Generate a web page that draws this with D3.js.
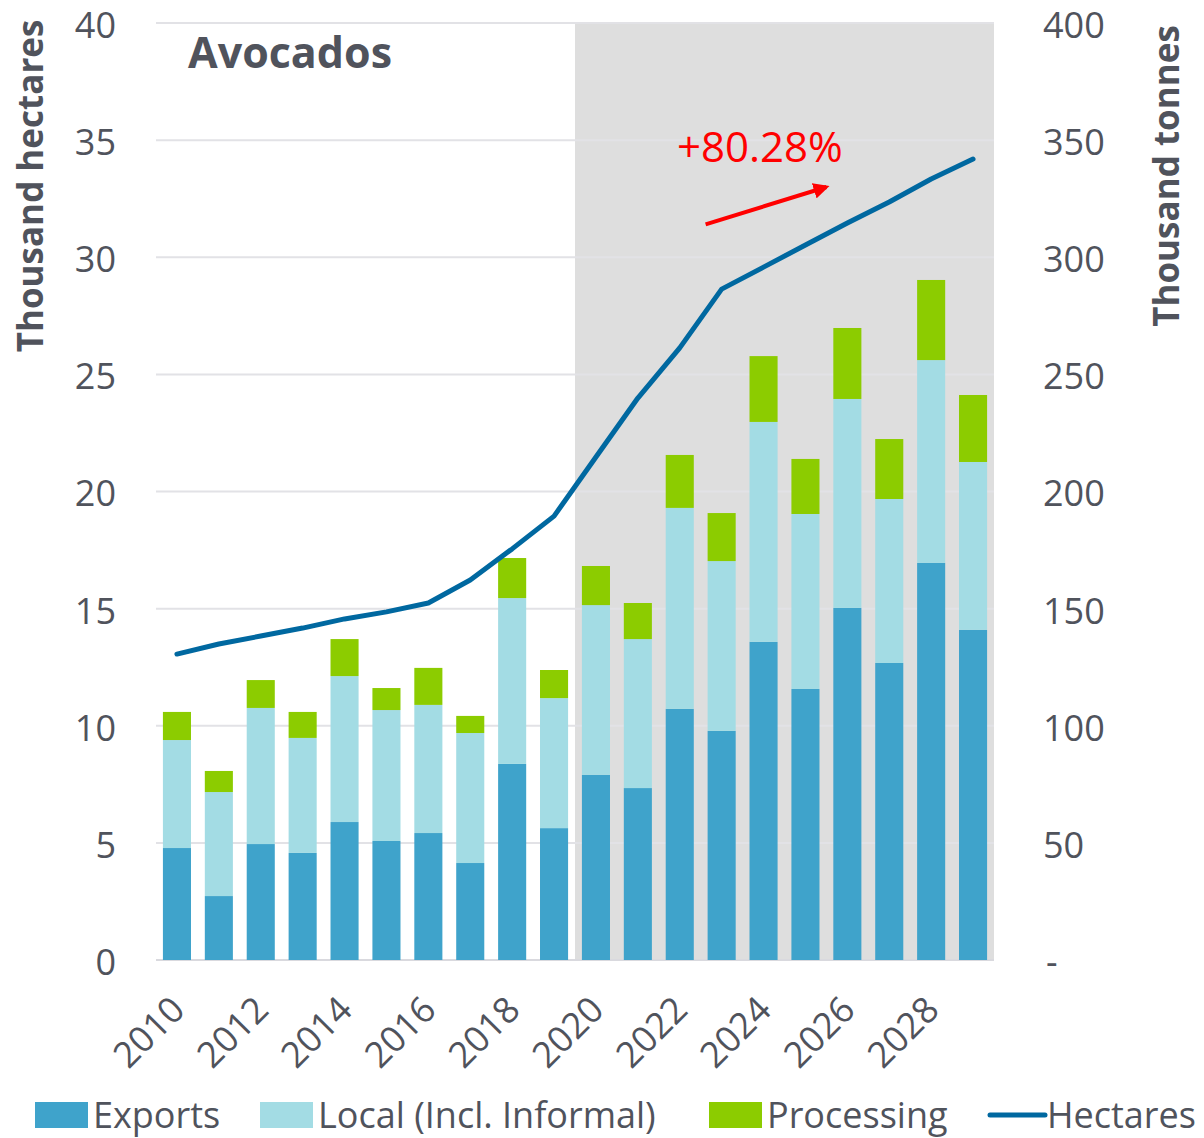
<!DOCTYPE html>
<html>
<head>
<meta charset="utf-8">
<script src="https://cdn.jsdelivr.net/npm/d3@7"></script>
<style>
  body { margin: 0; background: #fff; }
  text { font-family: "Open Sans", Lato, sans-serif; fill: #50535c; }
</style>
</head>
<body>
<div id="chart"></div>
<script>
// Chart data (thousand tonnes for bars, thousand hectares for the line)
const years = d3.range(2010, 2030);
const exportsT = [47.8, 27.3, 49.5, 45.7, 58.9, 50.8, 54.2, 41.4, 83.7, 56.3, 79.0, 73.4, 107.2, 97.8, 135.8, 115.7, 150.3, 126.8, 169.5, 140.9];
const localT = [46.1, 44.4, 58.1, 49.1, 62.3, 55.9, 54.7, 55.5, 70.8, 55.5, 72.5, 63.6, 85.8, 72.5, 93.9, 74.7, 89.2, 70.0, 86.6, 71.7];
const processingT = [12.0, 9.0, 11.9, 11.1, 15.8, 9.4, 15.8, 7.3, 17.1, 12.0, 16.7, 15.4, 22.6, 20.5, 28.1, 23.5, 30.3, 25.6, 34.2, 28.6];
const hectares = [13.06, 13.49, 13.83, 14.17, 14.56, 14.86, 15.24, 16.22, 17.55, 18.95, 21.47, 23.99, 26.13, 28.64, 29.58, 30.52, 31.46, 32.36, 33.34, 34.19];
const leftTicks = [0, 5, 10, 15, 20, 25, 30, 35, 40];
const rightTicks = [0, 50, 100, 150, 200, 250, 300, 350, 400];
const forecastStart = 2020;
const growthLabel = '+80.28%';
const seriesKeys = ['Exports', 'Local (Incl. Informal)', 'Processing'];
const colors = { 'Exports': '#3fa3cb', 'Local (Incl. Informal)': '#a3dce4', 'Processing': '#8ccc00' };
const lineColor = '#0068a0';

const width = 1204, height = 1138;
const plot = { left: 156, right: 994, top: 23, bottom: 960 };

const svg = d3.select('#chart').append('svg')
    .attr('width', width)
    .attr('height', height);

const x = d3.scaleBand()
    .domain(years)
    .range([plot.left, plot.right])
    .paddingInner(0.33)
    .paddingOuter(0.165);

const yLeft = d3.scaleLinear().domain([0, 40]).range([plot.bottom, plot.top]);
const yRight = d3.scaleLinear().domain([0, 400]).range([plot.bottom, plot.top]);

// Forecast shading
const shadeX = (x(forecastStart - 1) + x.bandwidth() + x(forecastStart)) / 2;
svg.append('rect')
    .attr('x', shadeX)
    .attr('y', plot.top)
    .attr('width', plot.right - shadeX)
    .attr('height', plot.bottom - plot.top)
    .attr('fill', '#dedede');

// Gridlines
svg.append('g')
    .selectAll('line')
    .data(leftTicks)
    .enter()
    .append('line')
    .attr('x1', plot.left)
    .attr('x2', plot.right)
    .attr('y1', d => yLeft(d))
    .attr('y2', d => yLeft(d))
    .attr('stroke', d => d === 0 ? '#d9d9de' : '#e2e2e6')
    .attr('stroke-width', 2);

// Stacked bars
const rows = years.map((yr, i) => ({
    year: yr,
    'Exports': exportsT[i],
    'Local (Incl. Informal)': localT[i],
    'Processing': processingT[i]
}));
const stacked = d3.stack().keys(seriesKeys)(rows);

svg.append('g')
    .selectAll('g')
    .data(stacked)
    .enter()
    .append('g')
    .attr('fill', d => colors[d.key])
    .selectAll('rect')
    .data(d => d)
    .enter()
    .append('rect')
    .attr('x', d => x(d.data.year))
    .attr('y', d => yRight(d[1]))
    .attr('width', x.bandwidth())
    .attr('height', d => yRight(d[0]) - yRight(d[1]));

// Hectares line
const line = d3.line()
    .x((d, i) => x(years[i]) + x.bandwidth() / 2)
    .y(d => yLeft(d));

svg.append('path')
    .datum(hectares)
    .attr('d', line)
    .attr('fill', 'none')
    .attr('stroke', lineColor)
    .attr('stroke-width', 5)
    .attr('stroke-linecap', 'round')
    .attr('stroke-linejoin', 'round');

// Left axis labels
svg.append('g')
    .selectAll('text')
    .data(leftTicks)
    .enter()
    .append('text')
    .attr('x', 116)
    .attr('y', d => yLeft(d) + 2)
    .attr('dy', '0.36em')
    .attr('text-anchor', 'end')
    .style('font-size', '36px')
    .text(d => d);

// Right axis labels
svg.append('g')
    .selectAll('text')
    .data(rightTicks)
    .enter()
    .append('text')
    .attr('x', d => d === 0 ? 1046 : 1043)
    .attr('y', d => yRight(d) + 2)
    .attr('dy', '0.36em')
    .style('font-size', '36px')
    .text(d => d === 0 ? '-' : d);

// X labels (every other year)
svg.append('g')
    .selectAll('text')
    .data(years.filter(y => y % 2 === 0))
    .enter()
    .append('text')
    .attr('transform', d => `translate(${x(d) + x.bandwidth() / 2 - 8},${plot.bottom + 34}) rotate(-45)`)
    .attr('text-anchor', 'end')
    .attr('dy', '0.7em')
    .style('font-size', '36px')
    .text(d => d);

// Axis titles
svg.append('text')
    .attr('transform', `translate(43,${(20 + 352) / 2}) rotate(-90)`)
    .attr('text-anchor', 'middle')
    .style('font-size', '35px')
    .style('font-weight', 'bold')
    .text('Thousand hectares');

svg.append('text')
    .attr('transform', `translate(1179,${(25 + 327) / 2}) rotate(-90)`)
    .attr('text-anchor', 'middle')
    .style('font-size', '35px')
    .style('font-weight', 'bold')
    .text('Thousand tonnes');

// Title
svg.append('text')
    .attr('x', 188)
    .attr('y', 68)
    .style('font-size', '43px')
    .style('font-weight', 'bold')
    .text('Avocados');

// Growth annotation
svg.append('defs').append('marker')
    .attr('id', 'arrow')
    .attr('viewBox', '0 0 10 10')
    .attr('refX', 8)
    .attr('refY', 5)
    .attr('markerWidth', 4)
    .attr('markerHeight', 4)
    .attr('orient', 'auto')
    .append('path')
    .attr('d', 'M0,0 L10,5 L0,10 z')
    .attr('fill', '#ff0000');

const arrowX0 = x(2023) - 2, arrowX1 = x(2025) + 35;
svg.append('line')
    .attr('x1', arrowX0)
    .attr('y1', yLeft(31.4))
    .attr('x2', arrowX1)
    .attr('y2', yLeft(33.0))
    .attr('stroke', '#ff0000')
    .attr('stroke-width', 4)
    .attr('marker-end', 'url(#arrow)');

svg.append('text')
    .attr('x', 677)
    .attr('y', 162)
    .style('font-size', '42px')
    .style('fill', '#ff0000')
    .text(growthLabel);

// Legend
const legendItems = [
    { label: 'Exports', type: 'rect', color: colors['Exports'], x: 35 },
    { label: 'Local (Incl. Informal)', type: 'rect', color: colors['Local (Incl. Informal)'], x: 260 },
    { label: 'Processing', type: 'rect', color: colors['Processing'], x: 709 },
    { label: 'Hectares', type: 'line', color: lineColor, x: 990 }
];
const legendY = 1115;
const legend = svg.append('g')
    .selectAll('g')
    .data(legendItems)
    .enter()
    .append('g')
    .attr('transform', d => `translate(${d.x},${legendY})`);

legend.filter(d => d.type === 'rect')
    .append('rect')
    .attr('x', 0)
    .attr('y', -13)
    .attr('width', 53)
    .attr('height', 26)
    .attr('fill', d => d.color);

legend.filter(d => d.type === 'line')
    .append('line')
    .attr('x1', 0)
    .attr('x2', 55)
    .attr('y1', 0)
    .attr('y2', 0)
    .attr('stroke', d => d.color)
    .attr('stroke-width', 5)
    .attr('stroke-linecap', 'round');

legend.append('text')
    .attr('x', d => d.type === 'line' ? 57 : 58)
    .attr('dy', '0.36em')
    .style('font-size', '36px')
    .text(d => d.label);
</script>
</body>
</html>
